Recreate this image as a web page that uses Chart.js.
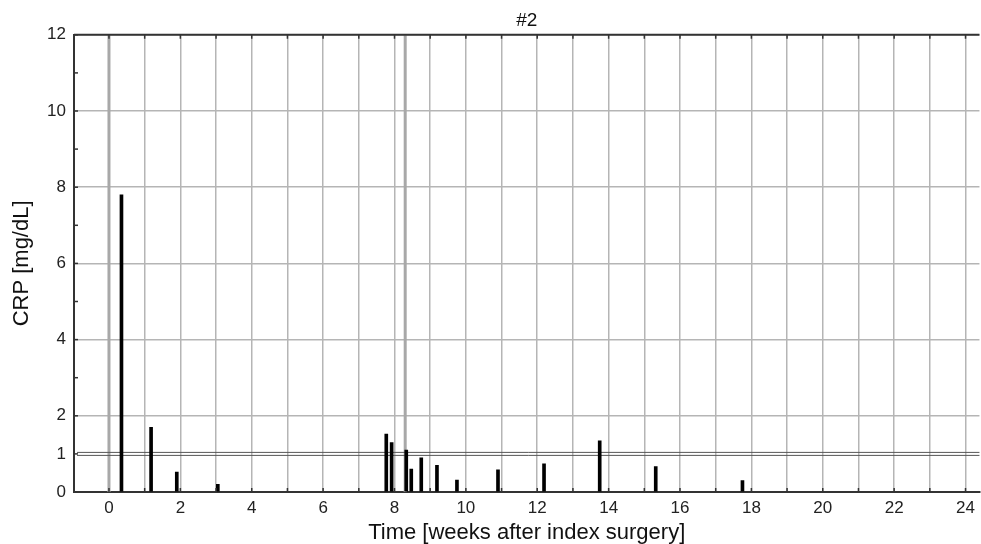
<!DOCTYPE html>
<html>
<head>
<meta charset="utf-8">
<script src="https://cdn.jsdelivr.net/npm/chart.js@4.4.1/dist/chart.umd.min.js"></script>
<style>
  html, body { margin: 0; padding: 0; background: #fff; }
  #wrap { width: 981px; height: 544px; }
</style>
</head>
<body>
<div id="wrap"><canvas id="crp"></canvas></div>
<script>
const weeks = [0.35, 1.18, 1.9, 3.05, 7.77, 7.92, 8.33, 8.47, 8.75, 9.19, 9.75, 10.9, 12.19, 13.75, 15.32, 17.75];
const crp   = [7.8, 1.7, 0.52, 0.2, 1.52, 1.3, 1.1, 0.6, 0.9, 0.7, 0.31, 0.58, 0.74, 1.34, 0.67, 0.3];

const xTicks = [0,1,2,3,4,5,6,7,8,9,10,11,12,13,14,15,16,17,18,19,20,21,22,23,24];
const yTicks = [0,1,2,3,4,5,6,7,8,9,10,11,12];
const yTickLabels = [0,1,2,4,6,8,10,12];
const markerWeeks = [0, 8.3];   // surgery markers
const threshold = 1;            // CRP cut-off

const gridGray = '#b5b5b5';
const axisDark = '#333';
const font = 'Liberation Sans, Arial, sans-serif';

const overlays = {
  id: 'overlays',
  beforeDatasetsDraw(chart) {
    const { ctx, chartArea: a, scales: { x, y } } = chart;
    ctx.save();
    // grey surgery lines
    ctx.strokeStyle = '#a8a8a8';
    ctx.lineWidth = 3;
    markerWeeks.forEach(w => {
      const px = x.getPixelForValue(w);
      ctx.beginPath(); ctx.moveTo(px, a.top); ctx.lineTo(px, a.bottom); ctx.stroke();
    });
    // double threshold line
    const py = y.getPixelForValue(threshold);
    ctx.strokeStyle = '#555';
    ctx.lineWidth = 1;
    [-1.5, 1.5].forEach(d => {
      ctx.beginPath(); ctx.moveTo(a.left + 3, py + d); ctx.lineTo(a.right, py + d); ctx.stroke();
    });
    ctx.restore();
  },
  afterDraw(chart) {
    const { ctx, chartArea: a, scales: { x, y } } = chart;
    ctx.save();
    ctx.strokeStyle = axisDark;
    ctx.lineWidth = 2;
    ctx.beginPath(); ctx.moveTo(a.left, a.top); ctx.lineTo(a.right, a.top); ctx.stroke();
    // small inward tick marks
    ctx.lineWidth = 1.5;
    xTicks.forEach(v => {
      const px = x.getPixelForValue(v);
      ctx.beginPath();
      ctx.moveTo(px, a.bottom); ctx.lineTo(px, a.bottom - 4);
      ctx.moveTo(px, a.top); ctx.lineTo(px, a.top + 4);
      ctx.stroke();
    });
    yTicks.forEach(v => {
      const py = y.getPixelForValue(v);
      ctx.beginPath(); ctx.moveTo(a.left, py); ctx.lineTo(a.left + 4, py); ctx.stroke();
    });
    ctx.restore();
  }
};

new Chart(document.getElementById('crp'), {
  type: 'bar',
  data: {
    datasets: [{
      data: weeks.map((w, i) => ({ x: w, y: crp[i] })),
      backgroundColor: '#000',
      barThickness: 3
    }]
  },
  options: {
    responsive: true,
    maintainAspectRatio: false,
    animation: false,
    layout: { padding: 0 },
    plugins: {
      legend: { display: false },
      tooltip: { enabled: false },
      title: {
        display: true,
        text: '#2',
        fullSize: false,
        color: '#111',
        font: { family: font, size: 19, weight: 'normal' },
        padding: { top: 9, bottom: 3 }
      }
    },
    scales: {
      x: {
        type: 'linear',
        offset: false,
        min: -0.98,
        max: 24.39,
        afterBuildTicks: s => { s.ticks = xTicks.map(v => ({ value: v })); },
        afterFit: s => { s.height = 52; },
        ticks: {
          autoSkip: false,
          maxRotation: 0,
          padding: 6,
          color: '#222',
          font: { family: font, size: 17 },
          callback: v => (v % 2 === 0 ? String(v) : '')
        },
        grid: { offset: false, color: gridGray, lineWidth: 1.5, drawTicks: false },
        border: { color: axisDark, width: 2 },
        title: {
          display: true,
          text: 'Time [weeks after index surgery]',
          color: '#111',
          font: { family: font, size: 22, lineHeight: 1 },
          padding: { top: 2, bottom: 0 }
        }
      },
      y: {
        min: 0,
        max: 12,
        afterBuildTicks: s => { s.ticks = yTicks.map(v => ({ value: v })); },
        afterFit: s => { s.width = 74; },
        ticks: {
          autoSkip: false,
          padding: 8,
          color: '#222',
          font: { family: font, size: 17 },
          callback: v => (yTickLabels.includes(v) ? String(v) : '')
        },
        grid: {
          drawTicks: false,
          lineWidth: 1.5,
          color: c => (c.tick && c.tick.value > 0 && c.tick.value % 2 === 0 ? gridGray : 'rgba(0,0,0,0)')
        },
        border: { color: axisDark, width: 2 },
        title: {
          display: true,
          text: 'CRP [mg/dL]',
          color: '#111',
          font: { family: font, size: 22, lineHeight: 1 },
          padding: { top: 11, bottom: 0 }
        }
      }
    }
  },
  plugins: [overlays]
});
</script>
</body>
</html>
